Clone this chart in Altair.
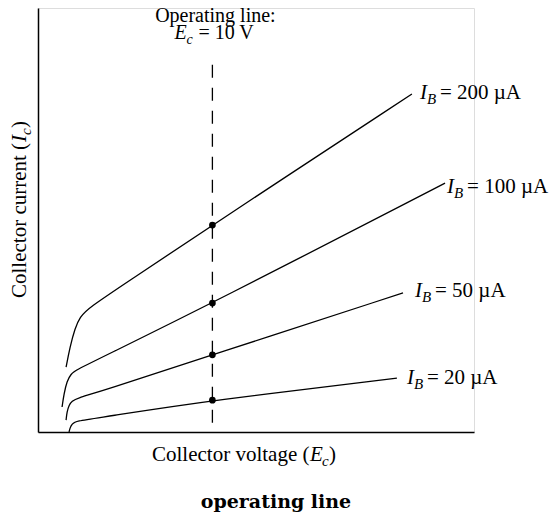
import altair as alt
import pandas as pd

# ---- data (Ec in V, Ic in arbitrary units) ----
EC_200 = [1.61, 1.83, 2.12, 2.41, 2.87, 5.28, 10.0, 21.44]
IC_200 = [1.53, 2.00, 2.45, 2.71, 2.92, 3.58, 4.88, 7.97]
EC_100 = [1.38, 1.49, 1.66, 1.89, 2.18, 3.56, 10.0, 23.34]
IC_100 = [0.59, 0.90, 1.20, 1.37, 1.46, 1.74, 3.04, 5.87]
EC_50 = [1.61, 1.66, 1.78, 1.95, 2.24, 3.56, 10.0, 20.93]
IC_50 = [0.28, 0.47, 0.64, 0.73, 0.80, 0.95, 1.82, 3.28]
EC_20 = [1.78, 1.83, 1.95, 2.18, 3.56, 10.0, 20.58]
IC_20 = [0.00, 0.09, 0.19, 0.26, 0.34, 0.75, 1.27]

CURVE_EC = [EC_200, EC_100, EC_50, EC_20]
CURVE_IC = [IC_200, IC_100, IC_50, IC_20]
BASE_CURRENTS = ["200 µA", "100 µA", "50 µA", "20 µA"]

OPERATING_EC = 10
OPERATING_IC = [4.88, 3.04, 1.82, 0.75]
DASH_TOP = 8.66
X_MAX = 25
Y_MAX = 10

# ---- layout / style ----
W, H = 436, 424
PX_X = W / X_MAX
PX_Y = H / Y_MAX
SERIF = "Liberation Serif"
FS = 21
FS_SUB = 15
LABEL_DX = [8, 2, 12, 10]   # px gap between line end and label
LABEL_DY = [5, 10, 4, 6]    # px baseline below line end

rows = []
for name, ecs, ics in zip(BASE_CURRENTS, CURVE_EC, CURVE_IC):
    for e, i in zip(ecs, ics):
        rows.append({"curve": name, "ec": e, "ic": i})
lines_df = pd.DataFrame(rows)

dots_df = pd.DataFrame({"ec": [OPERATING_EC] * len(OPERATING_IC), "ic": OPERATING_IC})
rule_df = pd.DataFrame({"ec": [OPERATING_EC], "ic": [DASH_TOP], "ic2": [0]})

lab_df = pd.DataFrame({
    "ec": [ecs[-1] + dx / PX_X for ecs, dx in zip(CURVE_EC, LABEL_DX)],
    "ic": [ics[-1] - dy / PX_Y for ics, dy in zip(CURVE_IC, LABEL_DY)],
    "main": ["I"] * 4,
    "sub": ["B"] * 4,
    "rest": ["= " + b for b in BASE_CURRENTS],
})

xs = alt.Scale(domain=[0, X_MAX], nice=False, zero=False)
ys = alt.Scale(domain=[0, Y_MAX], nice=False, zero=False)
axis_style = dict(title=None, labels=False, ticks=False, grid=False, domain=True,
                  domainColor="black", domainWidth=1.5)

lines = alt.Chart(lines_df).mark_line(color="black", strokeWidth=1.3, interpolate="basis").encode(
    x=alt.X("ec:Q", scale=xs, axis=alt.Axis(**axis_style)),
    y=alt.Y("ic:Q", scale=ys, axis=alt.Axis(**axis_style)),
    detail="curve:N",
)

rule = alt.Chart(rule_df).mark_rule(color="black", strokeWidth=1.3, strokeDash=[13, 10]).encode(
    x=alt.X("ec:Q", scale=xs), y=alt.Y("ic:Q", scale=ys), y2="ic2:Q"
)

dots = alt.Chart(dots_df).mark_circle(size=45, color="black", opacity=1).encode(
    x=alt.X("ec:Q", scale=xs), y=alt.Y("ic:Q", scale=ys)
)


def txt(df, field, dx, dy, size=FS, style="normal", align="left", angle=0, font=SERIF):
    kw = dict(font=font, fontSize=size, fontStyle=style, align=align, baseline="alphabetic",
              color="black", dx=dx, dy=dy)
    if angle:
        kw["angle"] = angle
    return alt.Chart(df).mark_text(**kw).encode(
        x=alt.X("ec:Q", scale=xs), y=alt.Y("ic:Q", scale=ys), text=f"{field}:N"
    )


# curve labels  I_B = ...
lab_layers = [
    txt(lab_df, "main", 0, 0, style="italic"),
    txt(lab_df, "sub", 7, 5, size=FS_SUB, style="italic"),
    txt(lab_df, "rest", 20, 0),
]

# operating line annotation
op_df = pd.DataFrame({"ec": [OPERATING_EC], "ic": [DASH_TOP],
                      "t1": ["Operating line:"], "e": ["E"], "c": ["c"], "t2": ["= 10 V"]})
op_layers = [
    txt(op_df, "t1", 3, -43, size=20, align="center"),
    txt(op_df, "e", -38, -26, size=20, style="italic"),
    txt(op_df, "c", -26, -21, size=14, style="italic"),
    txt(op_df, "t2", -14, -26, size=20),
]

# x axis title: Collector voltage (E_c)
xt_df = pd.DataFrame({"ec": [X_MAX / 2], "ic": [0],
                      "t1": ["Collector voltage ("], "e": ["E"], "c": ["c"], "t2": [")"]})
xt_layers = [
    txt(xt_df, "t1", -104, 29),
    txt(xt_df, "e", 54, 29, style="italic"),
    txt(xt_df, "c", 66, 34, size=FS_SUB, style="italic"),
    txt(xt_df, "t2", 73, 29),
]

# y axis title: Collector current (I_c)
yt_df = pd.DataFrame({"ec": [0], "ic": [0],
                      "t1": ["Collector current ("], "i": ["I"], "c": ["c"], "t2": [")"]})
yt_layers = [
    txt(yt_df, "t1", 134, -12, angle=270),
    txt(yt_df, "i", 290, -12, style="italic", angle=270),
    txt(yt_df, "c", 297, -7, size=FS_SUB, style="italic", angle=270),
    txt(yt_df, "t2", 304, -12, angle=270),
]

chart = alt.layer(lines, rule, dots, *lab_layers, *op_layers, *xt_layers, *yt_layers).properties(
    width=W, height=H,
    autosize=alt.AutoSizeParams(type="none"),
    padding={"left": 30, "top": 0, "right": 76, "bottom": 80},
    title=alt.TitleParams("operating line", orient="bottom", anchor="middle", frame="group",
                          font="DejaVu Serif", fontSize=19, fontWeight="bold", color="black",
                          dx=20, offset=24),
).configure_view(stroke=None).configure(background="white")

chart.save("out.html", embed_options={"renderer": "svg", "actions": False})
